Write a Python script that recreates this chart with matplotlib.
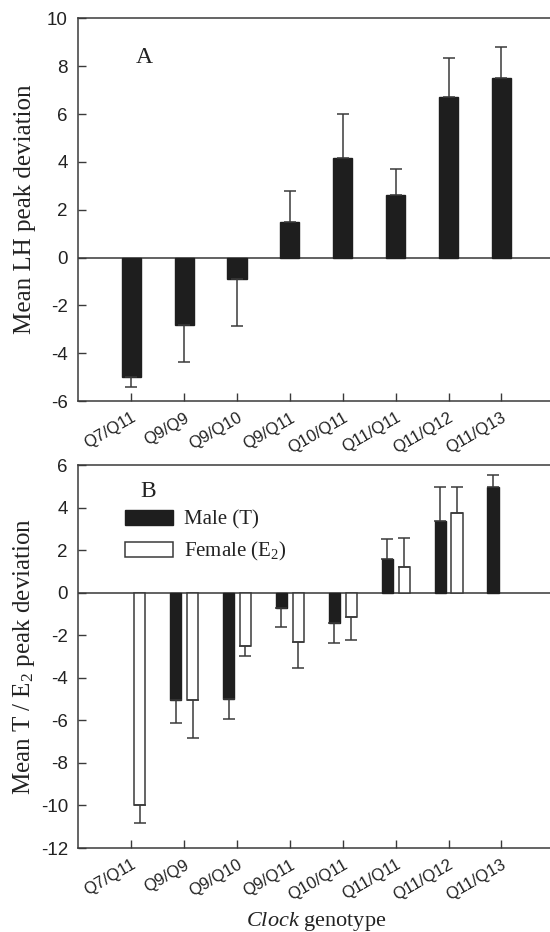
import numpy as np
import matplotlib
matplotlib.use("Agg")
import matplotlib.pyplot as plt
from matplotlib.patches import Patch
from matplotlib.transforms import ScaledTranslation

plt.rcParams['mathtext.fontset'] = 'custom'
plt.rcParams['mathtext.rm'] = 'Liberation Serif'
plt.rcParams['mathtext.it'] = 'Liberation Serif:italic'
plt.rcParams['axes.unicode_minus'] = False

genotypes = ["Q7/Q11", "Q9/Q9", "Q9/Q10", "Q9/Q11", "Q10/Q11", "Q11/Q11", "Q11/Q12", "Q11/Q13"]

lh_mean = [-5.0, -2.8, -0.88, 1.5, 4.15, 2.6, 6.7, 7.52]
lh_sem = [0.42, 1.57, 1.99, 1.3, 1.87, 1.1, 1.63, 1.28]

male_mean = [np.nan, -5.02, -4.98, -0.74, -1.44, 1.58, 3.35, 4.96]
male_sem = [np.nan, 1.08, 0.94, 0.86, 0.93, 0.94, 1.64, 0.58]
female_mean = [-10.0, -5.02, -2.52, -2.32, -1.13, 1.22, 3.76, np.nan]
female_sem = [0.82, 1.83, 0.47, 1.21, 1.08, 1.35, 1.23, np.nan]

yticks_a = list(range(-6, 11, 2))
yticks_b = list(range(-12, 7, 2))

DARK = '#1e1e1e'
LINE = '#3a3a3a'
TXT = '#222222'
SANS = 'Liberation Sans'
SERIF = 'Liberation Serif'

fig = plt.figure(figsize=(5.5, 9.32), dpi=100)


def one_sided(mean, sem):
    m = np.asarray(mean, float)
    s = np.asarray(sem, float)
    lower = np.where(m < 0, s, 0.0)
    upper = np.where(m >= 0, s, 0.0)
    return np.vstack([lower, upper])


def style_axes(ax, yticks):
    x = np.arange(len(genotypes))
    ax.set_xlim(-1, 8)
    ax.set_ylim(yticks[0], yticks[-1])
    ax.set_yticks(yticks)
    ax.set_xticks(x)
    ax.set_xticklabels(genotypes, rotation=30, ha='right', rotation_mode='anchor',
                       fontsize=12, family=SANS, color=TXT)
    off = ScaledTranslation(1.5 / 72, 0, fig.dpi_scale_trans)
    for lab in ax.get_xticklabels():
        lab.set_transform(lab.get_transform() + off)
    for lab in ax.get_yticklabels():
        lab.set_family(SANS)
        lab.set_fontsize(13.5)
        lab.set_color(TXT)
    ax.tick_params(axis='y', direction='in', length=6, width=1, color=LINE, pad=7.5)
    ax.tick_params(axis='x', direction='in', length=6, width=1, color=LINE, pad=6.5)
    for sp in ['left', 'bottom', 'top']:
        ax.spines[sp].set_color(LINE)
        ax.spines[sp].set_linewidth(1.1)
    ax.spines['right'].set_visible(False)
    ax.axhline(0, color='#555555', lw=1.3, zorder=1)


# axes: A spans y 18.3-401 px, B spans y 465-848 px; left spine at x 78.3
axA = fig.add_axes([0.1424, 0.5697, 0.8655, 0.4106])
axB = fig.add_axes([0.1424, 0.0901, 0.8655, 0.4109])

x = np.arange(len(genotypes))

# Panel A
axA.bar(x, lh_mean, width=0.36, color=DARK, edgecolor=DARK, zorder=2)
axA.errorbar(x, lh_mean, yerr=one_sided(lh_mean, lh_sem), fmt='none',
             ecolor=LINE, elinewidth=1.1, capsize=4.6, capthick=1.1, zorder=3)
style_axes(axA, yticks_a)
axA.set_ylabel("Mean LH peak deviation", family=SERIF, fontsize=18, color=TXT)
axA.yaxis.set_label_coords(-0.089, 0.5)
axA.text(0.139, 0.899, "A", transform=axA.transAxes,
         family=SERIF, fontsize=17, ha='center', va='center', color=TXT)

# Panel B
off = 0.16
w = 0.21
axB.bar(x - off, male_mean, width=w, color=DARK, edgecolor=DARK, zorder=2)
axB.bar(x + off, female_mean, width=w, color='white', edgecolor=LINE, linewidth=1.1, zorder=2)
axB.errorbar(x - off, male_mean, yerr=one_sided(male_mean, male_sem), fmt='none',
             ecolor=LINE, elinewidth=1.1, capsize=4.6, capthick=1.1, zorder=3)
axB.errorbar(x + off, female_mean, yerr=one_sided(female_mean, female_sem), fmt='none',
             ecolor=LINE, elinewidth=1.1, capsize=4.6, capthick=1.1, zorder=3)
style_axes(axB, yticks_b)
axB.set_ylabel("Mean T / E$_2$ peak deviation", family=SERIF, fontsize=18, color=TXT)
axB.yaxis.set_label_coords(-0.086, 0.5)
axB.set_xlabel(r"$\mathit{Clock}$ genotype", family=SERIF, fontsize=16, color=TXT)
axB.xaxis.set_label_coords(0.5, -0.162)
axB.text(0.146, 0.932, "B", transform=axB.transAxes,
         family=SERIF, fontsize=17, ha='center', va='center', color=TXT)

handles = [Patch(facecolor=DARK, edgecolor=DARK, label="Male (T)"),
           Patch(facecolor='white', edgecolor=LINE, linewidth=1.1, label="Female (E$_2$)")]
leg = axB.legend(handles=handles, loc='upper left',
                 bbox_to_anchor=(0.098, 0.882),
                 frameon=False, prop={'family': SERIF, 'size': 15},
                 handlelength=2.3, handleheight=0.72, handletextpad=0.55,
                 labelspacing=0.5, borderpad=0, borderaxespad=0)
for t in leg.get_texts():
    t.set_color(TXT)

fig.savefig("out.png", dpi=100)
